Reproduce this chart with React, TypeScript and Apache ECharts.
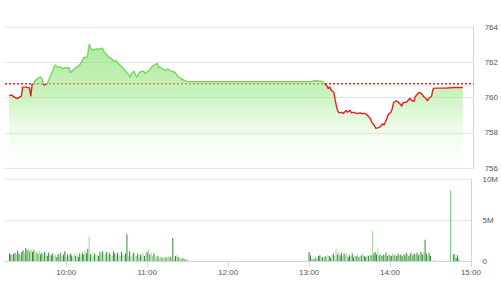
import React, { useEffect, useRef } from "react";
import * as echarts from "echarts";

// ---- Price (index) series: time -> value ----
const priceTimes = [
  "9:18","9:20","9:21","9:23","9:24","9:26","9:27","9:28","9:30","9:33","9:34","9:35","9:36","9:37","9:39","9:41","9:42","9:43","9:44","9:45","9:46","9:48","9:50","9:51","9:52","9:54","9:56","9:57","9:59",
  "10:00","10:02","10:03","10:05","10:07","10:08","10:10","10:12","10:13","10:15","10:16","10:17","10:18","10:19","10:20","10:21","10:23","10:24","10:26","10:27","10:28","10:30","10:31","10:33","10:35","10:37","10:38","10:40","10:42","10:44","10:46","10:47","10:48","10:50","10:51","10:52","10:54","10:55","10:57","10:58",
  "11:00","11:02","11:03","11:05","11:07","11:08","11:09","11:11","11:13","11:15","11:17","11:19","11:20","11:22","11:23","11:25","11:27","11:29","11:30",
  "13:00","13:03","13:09","13:10","13:12","13:13","13:14","13:15","13:17","13:18","13:19","13:20","13:21","13:23","13:24","13:26","13:27","13:29","13:30","13:32","13:34","13:36","13:38","13:40","13:41","13:43","13:44","13:45","13:47","13:48","13:50","13:51","13:53","13:54","13:56","13:57","13:58","13:59",
  "14:00","14:01","14:03","14:04","14:06","14:07","14:08","14:10","14:11","14:13","14:14","14:16","14:17","14:19","14:20","14:22","14:23","14:25","14:26","14:27","14:29","14:30","14:31","14:39","14:46","14:52",
];
const priceValues = [
  760.11,760.15,760.06,759.98,759.94,760.04,760.07,760.59,760.59,760.55,760.07,760.78,760.78,760.93,761.07,761.16,761.09,760.78,760.70,760.78,760.78,761.13,761.50,761.70,761.85,761.70,761.73,761.62,761.70,
  761.66,761.70,761.41,761.54,761.70,761.73,761.85,762.11,762.27,762.27,762.46,763.03,762.80,762.73,762.69,762.73,762.76,762.73,762.80,762.76,762.55,762.42,762.30,762.23,762.07,762.07,761.96,761.81,761.66,761.47,761.31,761.13,761.35,761.50,761.27,761.16,761.41,761.47,761.50,761.35,
  761.47,761.62,761.73,761.85,761.93,761.70,761.73,761.62,761.54,761.62,761.50,761.47,761.43,761.24,761.13,761.05,760.97,760.90,760.90,
  760.90,760.95,760.91,760.80,760.65,760.50,760.61,760.42,760.30,759.89,759.50,759.22,759.13,759.16,759.09,759.27,759.16,759.27,759.13,759.16,759.09,759.13,759.09,759.09,759.05,758.90,758.78,758.59,758.40,758.25,758.29,758.33,758.51,758.44,758.78,759.01,759.09,759.16,
  759.35,759.70,759.81,759.77,759.62,759.50,759.70,759.73,759.77,759.96,759.85,759.77,760.04,760.23,760.30,760.19,760.07,759.93,759.81,759.96,760.07,760.46,760.53,760.53,760.57,760.57,
];
const referencePrice = 760.78;

// ---- Volume (millions), one bar per minute ----
const volAMStart = "9:18";
const volAM = [
  0.9,0.8,0.7,0.85,1.0,0.8,1.25,0.9,0.7,1.1,1.3,1.0,
  1.6,1.3,1.45,1.2,1.5,1.1,1.35,1.0,1.2,0.9,
  1.25,0.8,1.0,0.7,1.1,0.9,0.6,1.05,0.8,0.7,
  0.9,0.6,0.75,0.5,0.85,0.7,1.0,0.6,0.8,1.2,
  0.5,0.8,0.6,0.9,0.7,0.55,0.95,0.6,0.8,0.5,
  0.9,0.7,1.0,0.8,1.3,0.9,1.5,3.0,0.8,1.0,
  0.6,0.9,0.7,0.8,0.6,1.1,0.9,1.2,0.8,0.9,
  1.1,0.7,1.0,0.8,0.6,1.2,0.9,0.7,1.0,0.8,
  0.6,1.1,0.8,0.7,0.9,3.25,0.7,1.2,0.6,0.8,
  1.0,0.7,0.6,0.9,0.5,0.8,0.7,1.0,0.6,0.9,
  1.1,1.4,0.8,1.0,0.6,0.9,0.7,0.5,0.6,0.4,
  0.5,0.4,0.45,0.35,0.5,0.4,0.6,0.5,0.4,2.8,
  0.4,0.6,0.7,0.5,0.3,0.4,0.3,0.35,0.2,0.2,0.1,
];
const volAMDir =
  "DDLDDLDDLDDL" + "DDLDLDDLLD" + "LDDLDLDDLD" + "DLLDDLDLDD" + "LDLDDLLDLD" + "DLDDLDDLDL" +
  "LDLLDDLDLL" + "DLDLLDDLDL" + "LDLLDDLDLL" + "DLLDLDLLDL" + "DLDLLDLLDL" + "LDLLDLLDLD" + "LDLDLLDLDLD";
const volPMStart = "13:00";
const volPM = [
  1.1,0.7,0.3,0.2,0.3,0.4,0.3,0.6,0.7,0.4,
  0.5,0.4,0.6,0.5,0.8,0.6,0.4,0.7,0.9,0.6,
  1.5,0.8,1.1,0.7,1.0,0.6,0.9,0.7,1.0,0.5,
  0.7,0.6,0.9,0.5,0.7,0.6,0.8,0.5,0.6,0.7,
  0.9,0.6,0.5,0.7,0.6,0.8,0.7,3.7,0.9,1.1,
  0.8,1.5,0.7,0.9,0.6,0.8,0.7,1.0,0.6,0.8,
  0.7,0.6,0.9,0.7,0.8,0.6,0.9,0.7,0.8,0.6,
  0.9,0.7,1.0,0.8,0.6,0.9,1.1,0.7,0.9,0.8,
  1.0,0.7,0.9,1.1,0.8,1.0,2.6,0.9,0.7,1.0,
  0.6,
];
const volPMDir =
  "DDLDLDLDDL" + "DLDLLDDLDL" + "LDLDDLDLLD" + "DLDDLDLDLD" + "LDDLDLDLDD" +
  "DLDLDDLDDL" + "DDLDLDDLDD" + "LDDLDDLDDL" + "DDLDDLDDLD" + "D";
const volLateTimes = ["14:33","14:45","14:47","14:48","14:49","14:50","14:51"];
const volLate = [0.1, 8.6, 0.8, 0.9, 0.4, 0.7, 0.3];
const volLateDir = "LLDLDDL";

// ---- Axes ----
const xMinTime = "9:15";
const xMaxTime = "15:00";
const priceAxis = { min: 756, max: 764, step: 2 };
const volAxis = { min: 0, max: 10, step: 5 };

const toTs = (t: string) => {
  const [h, m] = t.split(":").map(Number);
  return new Date(2018, 0, 2, h, m, 0).getTime();
};
const HOUR = 3600 * 1000;
const MIN = 60 * 1000;

const DARK = "#2e8b2e";
const LIGHT = "#9fd996";

export default function App() {
  const ref = useRef<HTMLDivElement>(null);
  useEffect(() => {
    document.body.style.margin = "0";
    if (!ref.current) return;
    const chart = echarts.init(ref.current, undefined, { renderer: "svg" });

    const priceData = priceTimes.map((t, i) => [toTs(t), priceValues[i]]);
    const volBars: any[] = [];
    const pushVol = (start: number, vals: number[], dirs: string) => {
      vals.forEach((v, i) => {
        volBars.push({
          value: [start + i * MIN, v],
          itemStyle: { color: dirs[i] === "L" ? LIGHT : DARK },
        });
      });
    };
    pushVol(toTs(volAMStart), volAM, volAMDir);
    pushVol(toTs(volPMStart), volPM, volPMDir);
    volLateTimes.forEach((t, i) =>
      volBars.push({
        value: [toTs(t), volLate[i]],
        itemStyle: { color: volLateDir[i] === "L" ? "#6cc46c" : DARK },
      })
    );

    const xMin = toTs(xMinTime);
    const xMax = toTs(xMaxTime);
    const font = "Liberation Sans, Arial, sans-serif";
    const axisCol = "#ccd6eb";
    const gridCol = "#e3e3e3";

    chart.setOption({
      animation: false,
      grid: [
        { left: 5, right: 26, top: 27, bottom: 132 },
        { left: 5, right: 26, top: 179, bottom: 39 },
      ],
      xAxis: [
        { type: "time", gridIndex: 0, min: xMin, max: xMax, show: false },
        {
          type: "time",
          gridIndex: 1,
          min: xMin,
          max: xMax,
          minInterval: HOUR,
          maxInterval: HOUR,
          axisLine: { show: true, lineStyle: { color: axisCol, width: 1 } },
          axisTick: { show: true, length: 6, lineStyle: { color: axisCol } },
          axisLabel: {
            formatter: "{HH}:{mm}",
            fontSize: 8,
            color: "#555",
            margin: 7,
            fontFamily: font,
            fontWeight: "normal",
          },
          splitLine: { show: false },
        },
      ],
      yAxis: [
        {
          type: "value",
          gridIndex: 0,
          position: "right",
          min: priceAxis.min,
          max: priceAxis.max,
          interval: priceAxis.step,
          axisLine: { show: true, lineStyle: { color: axisCol } },
          axisTick: { show: false },
          axisLabel: { fontSize: 8, color: "#555", margin: 11, fontFamily: font },
          splitLine: { lineStyle: { color: gridCol } },
        },
        {
          type: "value",
          gridIndex: 1,
          position: "right",
          min: volAxis.min,
          max: volAxis.max,
          interval: volAxis.step,
          axisLine: { show: true, lineStyle: { color: axisCol } },
          axisTick: { show: false },
          axisLabel: {
            fontSize: 8,
            color: "#555",
            margin: 11,
            fontFamily: font,
            formatter: (v: number) => (v === 0 ? "0" : v + "M"),
          },
          splitLine: { lineStyle: { color: gridCol } },
        },
      ],
      visualMap: {
        show: false,
        type: "piecewise",
        seriesIndex: 0,
        dimension: 1,
        pieces: [
          { gte: priceAxis.min - 50, lt: referencePrice, color: "#ee1c1c" },
          { gte: referencePrice, lte: priceAxis.max + 50, color: "#76d65f" },
        ],
      },
      series: [
        {
          type: "line",
          xAxisIndex: 0,
          yAxisIndex: 0,
          data: priceData,
          showSymbol: false,
          z: 3,
          lineStyle: { width: 1.4 },
          areaStyle: {
            color: new echarts.graphic.LinearGradient(0, 0, 0, 1, [
              { offset: 0, color: "rgba(128,224,102,0.9)" },
              { offset: 0.4, color: "rgba(160,234,140,0.82)" },
              { offset: 1, color: "rgba(255,255,255,0.2)" },
            ]),
          },
        },
        {
          type: "line",
          xAxisIndex: 0,
          yAxisIndex: 0,
          data: [
            [xMin, referencePrice],
            [xMax, referencePrice],
          ],
          showSymbol: false,
          z: 1,
          silent: true,
          lineStyle: { color: "#ff1a1a", width: 1.5, type: [2, 2] },
        },
        {
          type: "bar",
          xAxisIndex: 1,
          yAxisIndex: 1,
          data: volBars,
          barWidth: 1,
        },
      ],
    });
    return () => chart.dispose();
  }, []);
  return <div ref={ref} style={{ width: 501, height: 300 }} />;
}
